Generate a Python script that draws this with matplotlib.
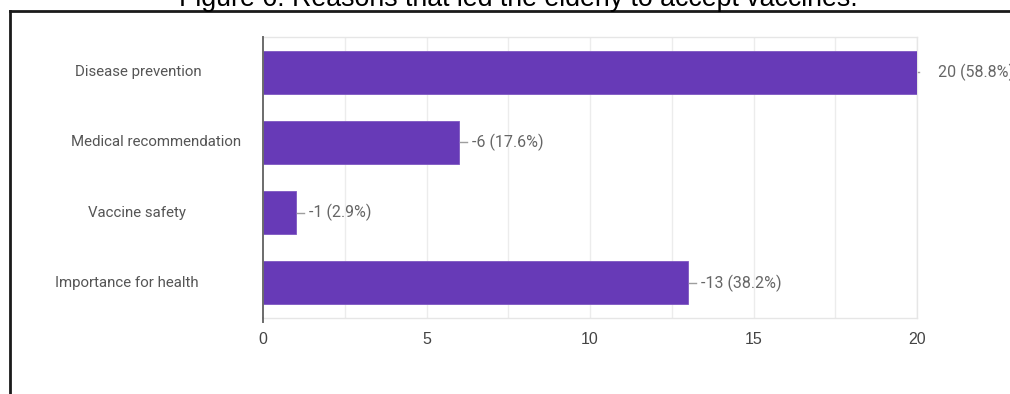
import matplotlib
matplotlib.use("Agg")
import matplotlib.pyplot as plt
from matplotlib.lines import Line2D
from matplotlib.transforms import offset_copy

categories = ["Disease prevention", "Medical recommendation", "Vaccine safety", "Importance for health"]
counts = [20, 6, 1, 13]
value_labels = ["20 (58.8%)", "-6 (17.6%)", "-1 (2.9%)", "-13 (38.2%)"]
xticks = [0, 5, 10, 15, 20]
title = "Figure 6: Reasons that led the elderly to accept vaccines."

W, H = 1010, 394
fig = plt.figure(figsize=(W / 100, H / 100), dpi=100)
fig.patch.set_facecolor("white")

L, R, T, B = 263, 917, 37, 318
ax = fig.add_axes([L / W, 1 - B / H, (R - L) / W, (B - T) / H])

purple = "#673ab7"
ypos = list(range(len(categories)))
ax.barh(ypos, counts, height=0.61, color=purple, edgecolor="#7e57c2", linewidth=0.6, zorder=3)

ax.set_xlim(0, 20)
ax.set_ylim(len(categories) - 0.5, -0.5)

for gx in [i * 2.5 for i in range(1, 9)]:
    ax.axvline(gx, color="#ececec", linewidth=1, zorder=1)

for s in ["top", "right", "bottom"]:
    ax.spines[s].set_color("#e6e6e6")
    ax.spines[s].set_linewidth(1)
ax.spines["left"].set_color("#6b6b6b")
ax.spines["left"].set_linewidth(1.4)
ax.spines["left"].set_zorder(4)

ax.set_xticks(xticks)
ax.set_xticklabels([str(t) for t in xticks], family="Liberation Sans", fontsize=11.5, color="#444444")
ax.tick_params(axis="x", length=0, pad=10)
ax.set_yticks([])

centers_px = [138, 156, 137, 127]
for y, lab, cx in zip(ypos, categories, centers_px):
    ax.text((cx - L) / (R - L), y, lab, transform=ax.get_yaxis_transform(), ha="center", va="center",
            family="Roboto", fontsize=10.8, color="#555555")

px = 0.72  # points per pixel
inv = fig.transFigure.inverted()
for y, v, lab in zip(ypos, counts, value_labels):
    off = 13 if lab.startswith("-") else 21
    ax.annotate(lab, xy=(v, y), xytext=(off * px, 0), textcoords="offset points",
                ha="left", va="center", family="Roboto", fontsize=11.5, color="#666666",
                annotation_clip=False)
    seg = 8 if lab.startswith("-") else 2
    t1 = offset_copy(ax.transData, fig=fig, x=1 * px, y=0, units="points")
    t2 = offset_copy(ax.transData, fig=fig, x=seg * px, y=0, units="points")
    p0 = inv.transform(t1.transform((v, y)))
    p1 = inv.transform(t2.transform((v, y)))
    fig.add_artist(Line2D([p0[0], p1[0]], [p0[1], p1[1]], color="#9e9e9e", linewidth=1, zorder=5))

fig.add_artist(Line2D([L / W, L / W], [1 - B / H, 1 - 322 / H], color="#6b6b6b", linewidth=1.4))

fig.add_artist(Line2D([9.5 / W, 9.5 / W], [0, 1 - 11 / H], color="#1a1a1a", linewidth=2))
fig.add_artist(Line2D([9.5 / W, 1], [1 - 11 / H, 1 - 11 / H], color="#1a1a1a", linewidth=2))

fig.text(518 / W, 1 - 6 / H, title, ha="center", va="baseline", family="Liberation Sans",
         fontsize=19.3, color="#000000")

fig.savefig("out.png", dpi=100, facecolor="white")
